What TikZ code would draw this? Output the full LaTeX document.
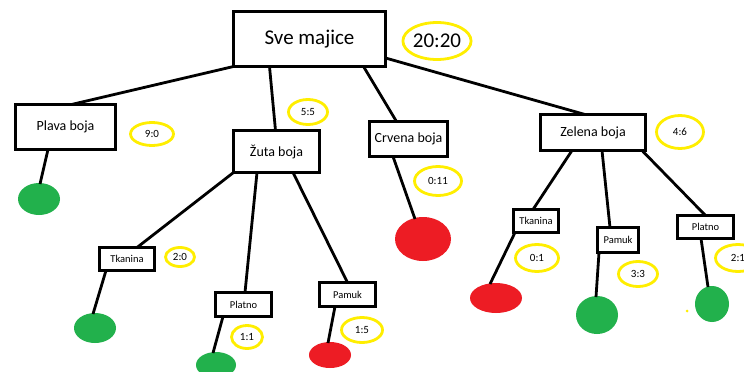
\documentclass[tikz,border=0pt]{standalone}
\usepackage{fontspec}
\setmainfont{Carlito}
\usetikzlibrary{shapes.geometric,calc}
\definecolor{pgreen}{RGB}{34,177,76}
\definecolor{pred}{RGB}{237,28,36}
\definecolor{pyellow}{RGB}{255,238,0}
\begin{document}
\begin{tikzpicture}[x=1pt,y=-1pt,
  box/.style={draw=black,line width=3pt,rectangle,inner sep=0pt,outer sep=0pt},
  bigt/.style={font=\fontsize{21}{21}\selectfont},
  midt/.style={font=\fontsize{14}{14}\selectfont},
  smallt/.style={font=\fontsize{10.5}{10.5}\selectfont},
  ratio/.style={draw=pyellow,line width=2.8pt,ellipse,inner sep=0pt,outer sep=0pt,font=\fontsize{11}{11}\selectfont},
  leaf/.style={ellipse,inner sep=0pt,outer sep=0pt,draw=none},
  conn/.style={line width=2.8pt,draw=black}
]
\useasboundingbox (0,0) rectangle (744,372);
\fill[white] (0,0) rectangle (744,372);
\clip (0,0) rectangle (744,372);

% boxes
\node[box,bigt,minimum width=152pt,minimum height=55pt] (sve) at (309.5,39) {Sve majice};
\node[box,midt,minimum width=100pt,minimum height=45pt] (plava) at (65.5,127) {Plava boja};
\node[box,midt,minimum width=86pt,minimum height=42pt] (zuta) at (276.5,151.5) {Žuta boja};
\node[box,midt,minimum width=78pt,minimum height=35pt] (crvena) at (408.5,139) {Crvena boja};
\node[box,midt,minimum width=105pt,minimum height=36pt] (zelena) at (593,132.5) {Zelena boja};
\node[box,smallt,minimum width=55pt,minimum height=23pt] (tk1) at (127,259) {Tkanina};
\node[box,smallt,minimum width=56pt,minimum height=24pt] (pl1) at (243.5,304.5) {Platno};
\node[box,smallt,minimum width=56pt,minimum height=24pt] (pa1) at (347.5,294.5) {Pamuk};
\node[box,smallt,minimum width=45pt,minimum height=23pt] (tk2) at (536,221) {Tkanina};
\node[box,smallt,minimum width=41pt,minimum height=25pt] (pa2) at (618,240) {Pamuk};
\node[box,smallt,minimum width=56pt,minimum height=23pt] (pl2) at (705.5,227) {Platno};

% ratios
\node[ratio,bigt,minimum width=67pt,minimum height=37pt] (r0) at (437,41) {20:20};
\node[ratio,minimum width=43pt,minimum height=23pt] (r1) at (152,134) {9:0};
\node[ratio,minimum width=39pt,minimum height=25pt] (r2) at (308,112) {5:5};
\node[ratio,minimum width=47pt,minimum height=29pt] (r3) at (438,181) {0:11};
\node[ratio,minimum width=47pt,minimum height=33pt] (r4) at (680,132) {4:6};
\node[ratio,minimum width=29pt,minimum height=19pt] (r5) at (180,257) {2:0};
\node[ratio,minimum width=31pt,minimum height=23pt] (r6) at (247,337) {1:1};
\node[ratio,minimum width=41pt,minimum height=25pt] (r7) at (362,330) {1:5};
\node[ratio,minimum width=43pt,minimum height=27pt] (r8) at (537,258) {0:1};
\node[ratio,minimum width=39pt,minimum height=25pt] (r9) at (638,274) {3:3};
\node[ratio,minimum width=45pt,minimum height=27pt] (r10) at (738,258) {2:1};

% leaves
\node[leaf,fill=pgreen,minimum width=42pt,minimum height=32pt] (l1) at (39,199) {};
\node[leaf,fill=pgreen,minimum width=42pt,minimum height=30pt] (l2) at (95,328) {};
\node[leaf,fill=pgreen,minimum width=40pt,minimum height=26pt] (l3) at (216,365) {};
\node[leaf,fill=pred,minimum width=42pt,minimum height=26pt] (l4) at (330,355) {};
\node[leaf,fill=pred,minimum width=56pt,minimum height=44pt] (l5) at (423,239) {};
\node[leaf,fill=pred,minimum width=52pt,minimum height=30pt] (l6) at (496,298) {};
\node[leaf,fill=pgreen,minimum width=42pt,minimum height=38pt] (l7) at (597,315) {};
\node[leaf,fill=pgreen,minimum width=34pt,minimum height=36pt] (l8) at (712,304) {};
\node[circle,fill=pyellow,inner sep=0pt,minimum size=3pt] (dot) at (687,311) {};

% connectors
\draw[conn] (sve.south west) -- ($(plava.north)+(6,0)$);
\draw[conn] ($(sve.south)+(-40,0)$) -- ($(zuta.north)+(-1,0)$);
\draw[conn] ($(sve.south)+(54,0)$) -- ($(crvena.north)+(-12,0)$);
\draw[conn] ($(sve.east)+(0,19)$) -- ($(zelena.north)+(-8,0)$);

\draw[conn] ($(plava.south)+(-17.5,0)$) -- ($(l1.north)+(1,1)$);
\draw[conn] (zuta.south west) -- ($(tk1.north)+(10,0)$);
\draw[conn] ($(zuta.south)+(-19.5,0)$) -- ($(pl1.north)+(1.5,0)$);
\draw[conn] ($(zuta.south)+(16.5,0)$) -- (pa1.north);
\draw[conn] ($(tk1.south)+(-21,0)$) -- ($(l2.north)+(-2,1)$);
\draw[conn] ($(pl1.south)+(-20.5,0)$) -- ($(l3.north)+(-3,1)$);
\draw[conn] ($(pa1.south)+(-12.5,0)$) -- ($(l4.north)+(-2,1)$);
\draw[conn] ($(crvena.south)+(-15.5,0)$) -- ($(l5.north)+(-8,2)$);

\draw[conn] ($(zelena.south)+(-21,0)$) -- ($(tk2.north)+(-3,0)$);
\draw[conn] ($(zelena.south)+(9,0)$) -- ($(pa2.north)+(-8,0)$);
\draw[conn] ($(zelena.south)+(49,0)$) -- (pl2.north);
\draw[conn] ($(tk2.south)+(-21,0)$) -- ($(l6.north)+(-6,1)$);
\draw[conn] ($(pa2.south)+(-19,0)$) -- ($(l7.north)+(-1,1)$);
\draw[conn] ($(pl2.south)+(-4.5,0)$) -- ($(l8.north)+(-4,1)$);
\end{tikzpicture}
\end{document}
